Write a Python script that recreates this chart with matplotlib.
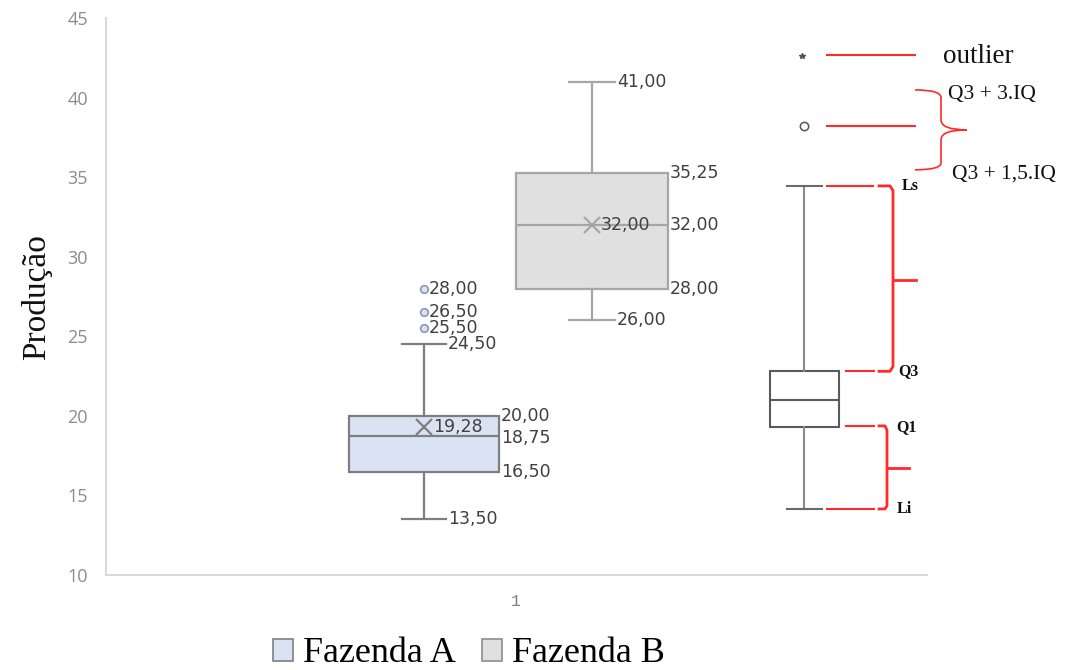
import matplotlib
matplotlib.use("Agg")
import matplotlib.pyplot as plt
from matplotlib.patches import Patch, PathPatch
from matplotlib.path import Path

# ---------------- data ----------------
farms = ["Fazenda A", "Fazenda B"]
whisker_low = [13.50, 26.00]
q1 = [16.50, 28.00]
median = [18.75, 32.00]
q3 = [20.00, 35.25]
whisker_high = [24.50, 41.00]
mean = [19.28, 32.00]
outliers = [[25.50, 26.50, 28.00], []]
category = ["1"]

# schematic box plot (explanatory diagram)
scheme_li = 14.15
scheme_q1 = 19.30
scheme_med = 21.00
scheme_q3 = 22.80
scheme_ls = 34.45
scheme_mild = 38.20
scheme_extreme = 42.60

# ---------------- style ----------------
face_colors = ["#DAE3F3", "#E0E0E0"]
edge_colors = ["#7F7F7F", "#A6A6A6"]
positions = [318, 486]
widths = [150, 152]
capw = [44, 46]
scheme_pos = 698
red = "#FF2A2A"
lab_col = "#404040"

def fmt(v):
    return f"{v:.2f}".replace(".", ",")

fig = plt.figure(figsize=(10.73, 6.70), dpi=100)
ax = fig.add_axes([106/1073, 95/670, 821/1073, 557/670])
ax.set_xlim(0, 821)
ax.set_ylim(10, 45)

for i in range(len(farms)):
    st = [dict(med=median[i], q1=q1[i], q3=q3[i], whislo=whisker_low[i],
               whishi=whisker_high[i], mean=mean[i], fliers=outliers[i])]
    ec = edge_colors[i]
    ax.bxp(st, positions=[positions[i]], widths=[widths[i]], capwidths=[capw[i]],
           patch_artist=True, showmeans=True, manage_ticks=False,
           boxprops=dict(facecolor=face_colors[i], edgecolor=ec, linewidth=1.6),
           medianprops=dict(color=ec, linewidth=1.6),
           whiskerprops=dict(color=ec, linewidth=1.6),
           capprops=dict(color=ec, linewidth=1.6),
           meanprops=dict(marker="x", markeredgecolor=ec, markersize=11,
                          markeredgewidth=1.6, linestyle="none"),
           flierprops=dict(marker="o", markerfacecolor="#DAE3F3",
                           markeredgecolor="#8D97AD", markersize=5.5,
                           markeredgewidth=1.2, linestyle="none"))
    p = positions[i]
    fs = 12.5
    ax.text(p + capw[i]/2 + 2, whisker_high[i], fmt(whisker_high[i]), va="center",
            ha="left", fontsize=fs, color=lab_col)
    ax.text(p + capw[i]/2 + 2, whisker_low[i], fmt(whisker_low[i]), va="center",
            ha="left", fontsize=fs, color=lab_col)
    ax.text(p + widths[i]/2 + 2, q3[i], fmt(q3[i]), va="center", ha="left",
            fontsize=fs, color=lab_col)
    ax.text(p + widths[i]/2 + 2, q1[i], fmt(q1[i]), va="center", ha="left",
            fontsize=fs, color=lab_col)
    dy = -0.15 if abs(median[i] - q3[i]) < 2 else 0
    ax.text(p + widths[i]/2 + 2, median[i] + dy, fmt(median[i]), va="center",
            ha="left", fontsize=fs, color=lab_col)
    ax.text(p + 9, mean[i], fmt(mean[i]), va="center", ha="left",
            fontsize=fs, color=lab_col)
    for o in outliers[i]:
        ax.text(p + 5, o, fmt(o), va="center", ha="left", fontsize=fs,
                color=lab_col)

# ---------------- schematic diagram ----------------
sst = [dict(med=scheme_med, q1=scheme_q1, q3=scheme_q3, whislo=scheme_li,
            whishi=scheme_ls, fliers=[])]
ax.bxp(sst, positions=[scheme_pos], widths=[69], capwidths=[35],
       patch_artist=True, manage_ticks=False,
       boxprops=dict(facecolor="white", edgecolor="#5A5A5A", linewidth=1.5),
       medianprops=dict(color="#5A5A5A", linewidth=1.5),
       whiskerprops=dict(color="#8A8A8A", linewidth=1.5),
       capprops=dict(color="#6A6A6A", linewidth=1.5))
ax.plot([scheme_pos], [scheme_mild], marker="o", markerfacecolor="white",
        markeredgecolor="#555555", markersize=6, markeredgewidth=1.1,
        linestyle="none", clip_on=False)
ax.plot([scheme_pos - 2], [scheme_extreme], marker="*", color="#555555",
        markersize=4, linestyle="none", clip_on=False)

lw = 1.5
# outlier & mild lines
ax.plot([721, 809], [scheme_extreme + 0.1, scheme_extreme + 0.1], color=red, lw=lw, clip_on=False)
ax.plot([721, 809], [scheme_mild, scheme_mild], color=red, lw=lw, clip_on=False)
ax.text(837, scheme_extreme, "outlier", fontsize=19.5, family="Liberation Serif",
        va="center", ha="left", color="#111111", clip_on=False)
# curly brace
verts = [(809, 40.48), (835, 40.48), (835, 40.0), (835, 38.6),
         (835, 37.97), (861, 37.97), (835, 37.97), (835, 37.35),
         (835, 35.9), (835, 35.46), (809, 35.46)]
codes = [Path.MOVETO, Path.CURVE3, Path.CURVE3, Path.LINETO,
         Path.CURVE3, Path.CURVE3, Path.CURVE3, Path.CURVE3,
         Path.LINETO, Path.CURVE3, Path.CURVE3]
ax.add_patch(PathPatch(Path(verts, codes), facecolor="none", edgecolor=red,
                       lw=1.2, clip_on=False))
ax.text(842, 40.2, "Q3 + 3.IQ", fontsize=15.5, family="Liberation Serif",
        va="center", ha="left", color="#111111", clip_on=False)
ax.text(846, 35.2, "Q3 + 1,5.IQ", fontsize=15.5, family="Liberation Serif",
        va="center", ha="left", color="#111111", clip_on=False)

# upper bracket Ls - Q3
ax.plot([721, 767], [scheme_ls, scheme_ls], color=red, lw=lw, clip_on=False)
ax.plot([740, 768], [scheme_q3, scheme_q3], color=red, lw=lw, clip_on=False)
ax.plot([773, 784, 787, 787, 784, 773],
        [scheme_ls, scheme_ls, scheme_ls - 0.3, scheme_q3 + 0.3, scheme_q3, scheme_q3],
        color=red, lw=2.0, clip_on=False)
ax.plot([787, 810], [(scheme_ls + scheme_q3) / 2 - 0.1] * 2, color=red, lw=2.0,
        clip_on=False)
# lower bracket Q1 - Li
ax.plot([740, 768], [scheme_q1 + 0.07, scheme_q1 + 0.07], color=red, lw=lw, clip_on=False)
ax.plot([721, 768], [scheme_li, scheme_li], color=red, lw=lw, clip_on=False)
ax.plot([773, 779, 781, 781, 779, 773],
        [scheme_q1 + 0.07, scheme_q1 + 0.07, scheme_q1 - 0.2, scheme_li + 0.2, scheme_li, scheme_li],
        color=red, lw=2.0, clip_on=False)
ax.plot([781, 803], [(scheme_q1 + scheme_li) / 2] * 2, color=red, lw=2.0,
        clip_on=False)

for txt, yv, xv in [("Ls", scheme_ls, 796), ("Q3", scheme_q3, 792),
                    ("Q1", scheme_q1, 790), ("Li", scheme_li, 791)]:
    ax.text(xv, yv, txt, fontsize=11.5, family="Liberation Serif",
            fontweight="bold", va="center", ha="left", color="#111111",
            clip_on=False)

# ---------------- axes styling ----------------
for s in ["top", "right"]:
    ax.spines[s].set_visible(False)
for s in ["left", "bottom"]:
    ax.spines[s].set_color("#D9D9D9")
    ax.spines[s].set_linewidth(1.5)
ax.set_yticks(range(10, 50, 5))
ax.tick_params(axis="y", length=0, pad=13, labelcolor="#8C8C8C", labelsize=13)
for t in ax.get_yticklabels():
    t.set_family("Open Sans")
ax.set_xticks([410])
ax.set_xticklabels(category)
ax.tick_params(axis="x", length=0, pad=14, labelcolor="#7F7F7F", labelsize=12)
for t in ax.get_xticklabels():
    t.set_family("Liberation Mono")

fig.text(37/1073, 1 - 297/670, "Produção", rotation=90, fontsize=24,
         family="Liberation Serif", va="center", ha="center", color="#111111")

handles = [Patch(facecolor=face_colors[i], edgecolor=edge_colors[i] if i == 0 else "#8C8C8C",
                 linewidth=1.2) for i in range(len(farms))]
fig.legend(handles, farms, loc="center", bbox_to_anchor=(469/1073, 1 - 654/670),
           ncol=2, frameon=False, prop=dict(family="Liberation Serif", size=26),
           handlelength=0.55, handleheight=0.55, handletextpad=0.3,
           columnspacing=0.7, borderpad=0)

fig.savefig("out.png", dpi=100, facecolor="white")
